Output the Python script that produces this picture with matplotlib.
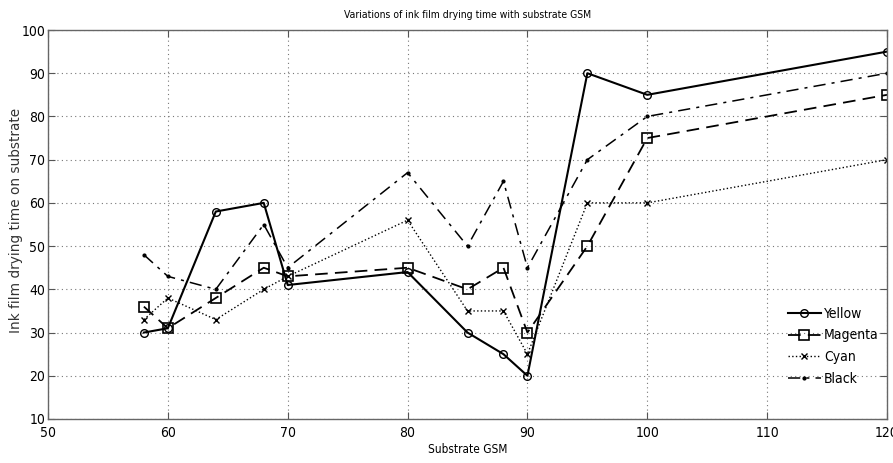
import matplotlib
matplotlib.use("Agg")
import matplotlib.pyplot as plt
from matplotlib import font_manager
from matplotlib.font_manager import FontProperties

names = {f.name for f in font_manager.fontManager.ttflist}
cond_path = font_manager.findfont(FontProperties(family='DejaVu Sans', stretch='condensed'))
if 'Liberation Sans Narrow' in names:
    cfam, cstretch = ['Liberation Sans Narrow', 'DejaVu Sans'], 'normal'
elif 'Condensed' in cond_path:
    cfam, cstretch = ['DejaVu Sans'], 'condensed'
else:
    cfam, cstretch = ['Liberation Sans', 'DejaVu Sans'], 'normal'
plt.rcParams['font.family'] = cfam
plt.rcParams['font.stretch'] = cstretch

gsm = [58, 60, 64, 68, 70, 80, 85, 88, 90, 95, 100, 120]
yellow = [30, 31, 58, 60, 41, 44, 30, 25, 20, 90, 85, 95]
magenta = [36, 31, 38, 45, 43, 45, 40, 45, 30, 50, 75, 85]
cyan = [33, 38, 33, 40, 43, 56, 35, 35, 25, 60, 60, 70]
black = [48, 43, 40, 55, 45, 67, 50, 65, 45, 70, 80, 90]
xticks = [50, 60, 70, 80, 90, 100, 110, 120]
yticks = [10, 20, 30, 40, 50, 60, 70, 80, 90, 100]

fig = plt.figure(figsize=(8.93, 4.63), dpi=100)
ax = fig.add_axes([48 / 893, 1 - 419 / 463, (887 - 48) / 893, (419 - 30) / 463])

ax.plot(gsm, yellow, '-', color='black', lw=1.5, marker='o', ms=5.5, mfc='none', mec='black', mew=1.0, label='Yellow')
ax.plot(gsm, magenta, '--', color='black', lw=1.3, dashes=(7, 4), marker='s', ms=6.5, mfc='none', mec='black', mew=1.2, label='Magenta')
ax.plot(gsm, cyan, ':', color='black', lw=1.0, marker='x', ms=4, mec='black', mew=1.0, label='Cyan')
ax.plot(gsm, black, '-.', color='black', lw=1.1, dashes=(8, 4, 2, 4), marker='.', ms=4, label='Black')

ax.set_xlim(50, 120)
ax.set_ylim(10, 100)
ax.set_xticks(xticks)
ax.set_yticks(yticks)
ax.grid(True, linestyle=(0, (1, 3)), color='#777777', lw=0.8)
ax.tick_params(axis='both', direction='in', top=True, right=True, labelsize=10, length=5, color='#555555')
ax.tick_params(axis='x', pad=5)
ax.tick_params(axis='y', pad=2)
for s in ax.spines.values():
    s.set_color('#666666')
    s.set_linewidth(1.0)

ax.set_title('Variations of ink film drying time with substrate GSM', fontsize=7.5, pad=9)
ax.set_xlabel('Substrate GSM', fontsize=8.5, labelpad=2)
ax.set_ylabel('Ink film drying time on substrate', fontsize=9.8,
              family=['DejaVu Sans'], fontstretch='normal', color='#333333')
ax.yaxis.set_label_coords(-0.030, 0.51)

leg = ax.legend(loc='upper right', bbox_to_anchor=(1.0, 0.31), frameon=False, fontsize=10,
                handlelength=2.4, handletextpad=0.2, labelspacing=0.55, borderaxespad=0.2)

fig.savefig('out.png', dpi=100)
